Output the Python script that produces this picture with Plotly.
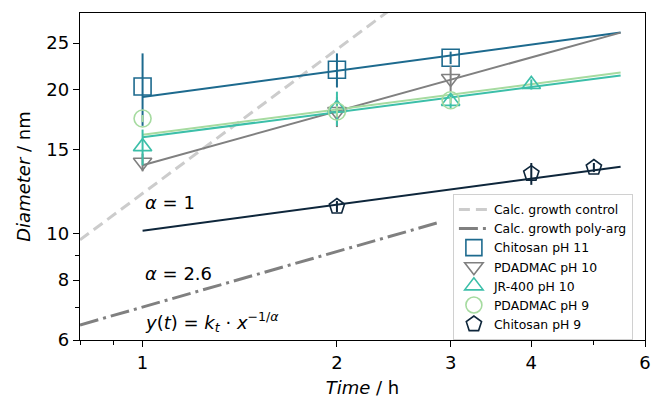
import numpy as np
import plotly.graph_objects as go

# ---- data ----
series_names = ["Chitosan pH 11", "PDADMAC pH 10", "JR-400 pH 10", "PDADMAC pH 9", "Chitosan pH 9"]

chit11_x = [1, 2, 3]
chit11_y = [20.3, 22.0, 23.3]
chit11_e = [3.5, 1.8, 0.7]

pdad10_x = [1, 2, 3]
pdad10_y = [14.1, 18.0, 21.1]
pdad10_e = [0.6, 1.3, 1.3]

jr400_x = [1, 2, 3, 4]
jr400_y = [15.2, 18.3, 18.9, 20.5]
jr400_e = [1.3, 1.5, 0.6, 0.5]

pdad9_x = [1, 2, 3]
pdad9_y = [17.4, 18.0, 19.0]
pdad9_e = [0.3, 0.5, 0.3]

chit9_x = [2, 4, 5]
chit9_y = [11.4, 13.35, 13.75]
chit9_e = [0.3, 0.7, 0.3]

# fitted power-law lines (end points, straight in log-log)
fit_x = [1, 5.5]
fit_chit11 = [19.3, 26.3]
fit_pdad10 = [13.9, 26.3]
fit_jr400 = [15.9, 21.4]
fit_pdad9 = [16.1, 21.7]
fit_chit9 = [10.15, 13.8]

# calculated growth lines
ctrl_x = [0.8, 3.0]
ctrl_y = [9.71, 36.4]
parg_x = [0.8, 2.87]
parg_y = [6.45, 10.55]

x_ticks = [1, 2, 3, 4, 6]
x_minor = [0.8, 0.9, 5]
y_ticks = [6, 8, 10, 15, 20, 25]
y_minor = [7, 9]

colors = {
    "Chitosan pH 11": "#1d6a8e",
    "PDADMAC pH 10": "#808080",
    "JR-400 pH 10": "#3cbfa9",
    "PDADMAC pH 9": "#a6dba0",
    "Chitosan pH 9": "#0e263b",
}

fig = go.Figure()

fig.add_trace(go.Scatter(x=ctrl_x, y=ctrl_y, mode="lines", name="Calc. growth control",
                         line=dict(color="#cccccc", width=3, dash="11px,6px")))
fig.add_trace(go.Scatter(x=parg_x, y=parg_y, mode="lines", name="Calc. growth poly-arg",
                         line=dict(color="#808080", width=3, dash="19px,5px,3px,5px")))

fits = [fit_chit11, fit_pdad10, fit_jr400, fit_pdad9, fit_chit9]
for name, fy in zip(series_names, fits):
    fig.add_trace(go.Scatter(x=fit_x, y=fy, mode="lines", showlegend=False,
                             line=dict(color=colors[name], width=2), hoverinfo="skip"))

pts = [
    (chit11_x, chit11_y, chit11_e, "square-open", 17),
    (pdad10_x, pdad10_y, pdad10_e, "triangle-down-open", 16),
    (jr400_x, jr400_y, jr400_e, "triangle-up-open", 16),
    (pdad9_x, pdad9_y, pdad9_e, "circle-open", 17),
    (chit9_x, chit9_y, chit9_e, "pentagon-open", 16),
]
for name, (xs, ys, es, sym, sz) in zip(series_names, pts):
    c = colors[name]
    fig.add_trace(go.Scatter(
        x=xs, y=ys, mode="markers", name=name,
        marker=dict(symbol=sym, size=sz, color=c, line=dict(color=c, width=1.6)),
        error_y=dict(type="data", array=es, visible=True, color=c, thickness=2, width=0),
    ))

font_main = dict(family="DejaVu Sans", size=18, color="black")

fig.add_annotation(x=0, y=np.log10(11.6), xref="x", yref="y", xanchor="left", yanchor="middle",
                   text="<i>α</i> = 1", showarrow=False, font=font_main)
fig.add_annotation(x=0, y=np.log10(8.28), xref="x", yref="y", xanchor="left", yanchor="middle",
                   text="<i>α</i> = 2.6", showarrow=False, font=font_main)
fig.add_annotation(x=0, y=np.log10(6.55), xref="x", yref="y", xanchor="left", yanchor="middle",
                   text="<i>y</i>(<i>t</i>) = <i>k<sub>t</sub></i> · <i>x</i><sup>−1/<i>α</i></sup>",
                   showarrow=False, font=font_main)

axis_common = dict(showline=True, linecolor="black", linewidth=1.3, mirror=True,
                   ticks="outside", ticklen=6, tickwidth=1.2, tickcolor="black",
                   showgrid=False, zeroline=False, tickfont=font_main, automargin=False,
                   ticklabeloverflow="allow")

fig.update_xaxes(type="log", range=[np.log10(0.8), np.log10(6)],
                 tickvals=x_ticks, ticktext=[str(v) for v in x_ticks],
                 minor=dict(tickvals=x_minor, ticks="outside", ticklen=4, tickcolor="black", showgrid=False),
                 title=dict(text="<i>Time</i> / h", font=font_main, standoff=9),
                 **axis_common)
fig.update_yaxes(type="log", range=[np.log10(6), np.log10(28.9)],
                 tickvals=y_ticks, ticktext=[str(v) for v in y_ticks],
                 minor=dict(tickvals=y_minor, ticks="outside", ticklen=4, tickcolor="black", showgrid=False),
                 title=dict(text="<i>Diameter</i> / nm", font=font_main, standoff=11),
                 **axis_common)

fig.update_layout(
    width=651, height=399,
    margin=dict(l=80, r=6, t=13, b=59),
    plot_bgcolor="white", paper_bgcolor="white",
    font=dict(family="DejaVu Sans", color="black"),
    legend=dict(x=0.660, y=0.447, xanchor="left", yanchor="top",
                bgcolor="rgba(255,255,255,0.85)", bordercolor="#d0d0d0", borderwidth=1,
                font=dict(family="DejaVu Sans", size=12.4, color="black"),
                tracegroupgap=0, itemwidth=30),
)

fig.write_html("out.html", config={"displayModeBar": False},
               post_script="document.body.style.margin='0';document.body.style.overflow='hidden';")
